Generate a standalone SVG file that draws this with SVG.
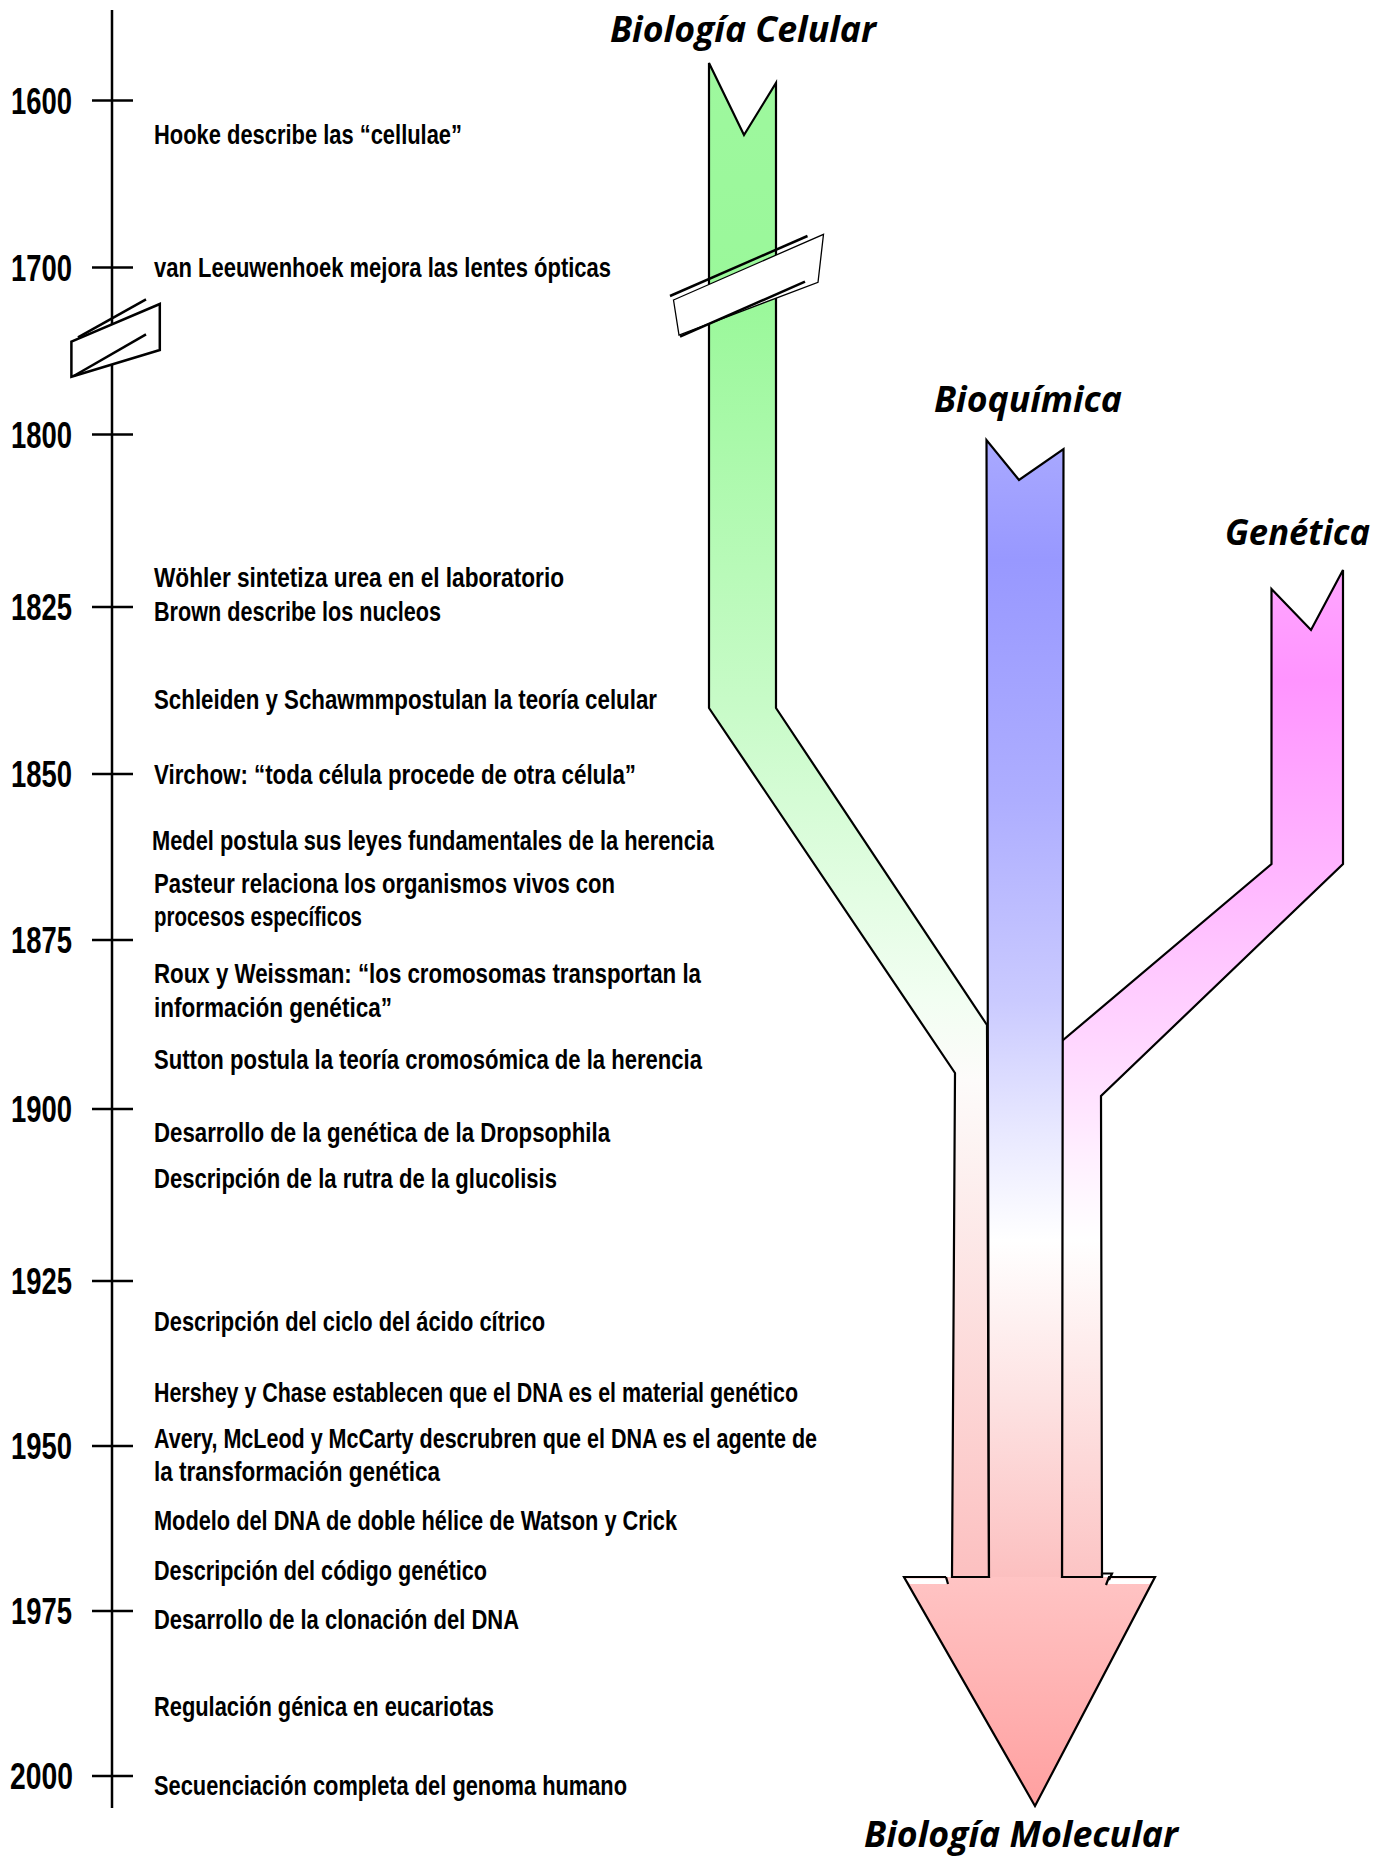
<svg xmlns="http://www.w3.org/2000/svg" width="1383" height="1857" viewBox="0 0 1383 1857">
<style>
.yr{font-family:"Liberation Sans Narrow","Liberation Sans",sans-serif;font-weight:700;font-size:36px;fill:#000}
.ev{font-family:"Liberation Sans Narrow","Liberation Sans",sans-serif;font-weight:700;font-size:28px;fill:#000}
.ttl{font-family:"Open Sans","Noto Sans",sans-serif;font-weight:700;font-style:italic;font-size:35px;fill:#000}
.tick{stroke:#000;stroke-width:2.5}
.band{stroke:#000;stroke-width:2.2;stroke-linejoin:miter}
.ln{fill:none;stroke:#000;stroke-width:2.2;stroke-linejoin:miter}
.brk{fill:#fff;stroke:#000}
</style>
<defs>
<linearGradient id="gGreen" gradientUnits="userSpaceOnUse" x1="0" y1="63" x2="0" y2="1577">
<stop offset="0" stop-color="#9ef89e"/>
<stop offset="0.157" stop-color="#9af89a"/>
<stop offset="0.426" stop-color="#c8fbc8"/>
<stop offset="0.619" stop-color="#f2fef2"/>
<stop offset="0.672" stop-color="#fdfbfa"/>
<stop offset="1" stop-color="#fcc0c0"/>
</linearGradient>
<linearGradient id="gBlue" gradientUnits="userSpaceOnUse" x1="0" y1="440" x2="0" y2="1577">
<stop offset="0" stop-color="#a9a9ff"/>
<stop offset="0.106" stop-color="#9898ff"/>
<stop offset="0.317" stop-color="#aeaeff"/>
<stop offset="0.493" stop-color="#cacaff"/>
<stop offset="0.607" stop-color="#e8e8ff"/>
<stop offset="0.704" stop-color="#ffffff"/>
<stop offset="0.844" stop-color="#fde2e2"/>
<stop offset="1" stop-color="#fcc0c0"/>
</linearGradient>
<linearGradient id="gPink" gradientUnits="userSpaceOnUse" x1="0" y1="570" x2="0" y2="1577">
<stop offset="0" stop-color="#ffa6ff"/>
<stop offset="0.109" stop-color="#ff94ff"/>
<stop offset="0.292" stop-color="#ffb4ff"/>
<stop offset="0.467" stop-color="#ffd6ff"/>
<stop offset="0.576" stop-color="#ffeeff"/>
<stop offset="0.665" stop-color="#ffffff"/>
<stop offset="1" stop-color="#fcc4c4"/>
</linearGradient>
<linearGradient id="gHead" gradientUnits="userSpaceOnUse" x1="0" y1="1577" x2="0" y2="1806">
<stop offset="0" stop-color="#ffc4c4"/>
<stop offset="1" stop-color="#ffa0a0"/>
</linearGradient>
</defs>

<g id="timeline-axis">
<line x1="112" y1="10" x2="112" y2="1808" stroke="#000" stroke-width="2.5"/>
<g id="ticks">
<line class="tick" x1="92" y1="100.6" x2="133" y2="100.6"/>
<line class="tick" x1="92" y1="267.6" x2="133" y2="267.6"/>
<line class="tick" x1="92" y1="434.6" x2="133" y2="434.6"/>
<line class="tick" x1="92" y1="607" x2="133" y2="607"/>
<line class="tick" x1="92" y1="774" x2="133" y2="774"/>
<line class="tick" x1="92" y1="940" x2="133" y2="940"/>
<line class="tick" x1="92" y1="1109" x2="133" y2="1109"/>
<line class="tick" x1="92" y1="1281" x2="133" y2="1281"/>
<line class="tick" x1="92" y1="1446" x2="133" y2="1446"/>
<line class="tick" x1="92" y1="1611" x2="133" y2="1611"/>
<line class="tick" x1="92" y1="1776" x2="133" y2="1776"/>
</g>
<g id="axis-break">
<polygon class="brk" stroke-width="2.5" points="71.4,341.7 159.8,304 159.8,350 71.4,376.7"/>
<line x1="78" y1="337.3" x2="146" y2="299.3" stroke="#000" stroke-width="2.5"/>
<line x1="73.7" y1="376" x2="146" y2="334.3" stroke="#000" stroke-width="2.5"/>
</g>
</g>

<g id="years">
<text class="yr" x="11" y="113.6" textLength="61" lengthAdjust="spacingAndGlyphs">1600</text>
<text class="yr" x="11" y="280.6" textLength="61" lengthAdjust="spacingAndGlyphs">1700</text>
<text class="yr" x="11" y="447.6" textLength="61" lengthAdjust="spacingAndGlyphs">1800</text>
<text class="yr" x="11" y="620" textLength="61" lengthAdjust="spacingAndGlyphs">1825</text>
<text class="yr" x="11" y="787" textLength="61" lengthAdjust="spacingAndGlyphs">1850</text>
<text class="yr" x="11" y="953" textLength="61" lengthAdjust="spacingAndGlyphs">1875</text>
<text class="yr" x="11" y="1122" textLength="61" lengthAdjust="spacingAndGlyphs">1900</text>
<text class="yr" x="11" y="1294" textLength="61" lengthAdjust="spacingAndGlyphs">1925</text>
<text class="yr" x="11" y="1459" textLength="61" lengthAdjust="spacingAndGlyphs">1950</text>
<text class="yr" x="11" y="1624" textLength="61" lengthAdjust="spacingAndGlyphs">1975</text>
<text class="yr" x="10" y="1789" textLength="63" lengthAdjust="spacingAndGlyphs">2000</text>
</g>

<g id="events">
<text class="ev" x="154" y="144" textLength="308" lengthAdjust="spacingAndGlyphs">Hooke describe las “cellulae”</text>
<text class="ev" x="154" y="277" textLength="457" lengthAdjust="spacingAndGlyphs">van Leeuwenhoek mejora las lentes ópticas</text>
<text class="ev" x="154" y="587" textLength="410" lengthAdjust="spacingAndGlyphs">Wöhler sintetiza urea en el laboratorio</text>
<text class="ev" x="154" y="621" textLength="287" lengthAdjust="spacingAndGlyphs">Brown describe los nucleos</text>
<text class="ev" x="154" y="709" textLength="503" lengthAdjust="spacingAndGlyphs">Schleiden y Schawmmpostulan la teoría celular</text>
<text class="ev" x="154" y="784" textLength="482" lengthAdjust="spacingAndGlyphs">Virchow: “toda célula procede de otra célula”</text>
<text class="ev" x="152" y="850" textLength="562" lengthAdjust="spacingAndGlyphs">Medel postula sus leyes fundamentales de la herencia</text>
<text class="ev" x="154" y="893" textLength="461" lengthAdjust="spacingAndGlyphs">Pasteur relaciona los organismos vivos con</text>
<text class="ev" x="154" y="926" textLength="208" lengthAdjust="spacingAndGlyphs">procesos específicos</text>
<text class="ev" x="154" y="983" textLength="547" lengthAdjust="spacingAndGlyphs">Roux y Weissman: “los cromosomas transportan la</text>
<text class="ev" x="154" y="1017" textLength="238" lengthAdjust="spacingAndGlyphs">información genética”</text>
<text class="ev" x="154" y="1069" textLength="548" lengthAdjust="spacingAndGlyphs">Sutton postula la teoría cromosómica de la herencia</text>
<text class="ev" x="154" y="1142" textLength="456" lengthAdjust="spacingAndGlyphs">Desarrollo de la genética de la Dropsophila</text>
<text class="ev" x="154" y="1188" textLength="403" lengthAdjust="spacingAndGlyphs">Descripción de la rutra de la glucolisis</text>
<text class="ev" x="154" y="1331" textLength="391" lengthAdjust="spacingAndGlyphs">Descripción del ciclo del ácido cítrico</text>
<text class="ev" x="154" y="1402" textLength="644" lengthAdjust="spacingAndGlyphs">Hershey y Chase establecen que el DNA es el material genético</text>
<text class="ev" x="154" y="1448" textLength="663" lengthAdjust="spacingAndGlyphs">Avery, McLeod y McCarty descrubren que el DNA es el agente de</text>
<text class="ev" x="154" y="1481" textLength="286" lengthAdjust="spacingAndGlyphs">la transformación genética</text>
<text class="ev" x="154" y="1530" textLength="523" lengthAdjust="spacingAndGlyphs">Modelo del DNA de doble hélice de Watson y Crick</text>
<text class="ev" x="154" y="1580" textLength="333" lengthAdjust="spacingAndGlyphs">Descripción del código genético</text>
<text class="ev" x="154" y="1629" textLength="365" lengthAdjust="spacingAndGlyphs">Desarrollo de la clonación del DNA</text>
<text class="ev" x="154" y="1716" textLength="340" lengthAdjust="spacingAndGlyphs">Regulación génica en eucariotas</text>
<text class="ev" x="154" y="1795" textLength="473" lengthAdjust="spacingAndGlyphs">Secuenciación completa del genoma humano</text>
</g>

<g id="connectors">
<g id="arrowhead">
<polygon fill="url(#gHead)" points="904,1577 1155,1577 1035,1806"/>
<polygon fill="#fff" points="905.5,1578.5 946,1578.5 948,1584 910,1584"/>
<polygon fill="#fff" points="1109,1578.5 1153.5,1578.5 1149.5,1584 1107,1584"/>
<path class="ln" d="M946,1577 L904,1577 L1035,1806 L1155,1577 L1109,1577 L1106,1585"/>
<path class="ln" d="M946,1577 L948,1584"/>
</g>
<g id="band-biologia-celular">
<polygon class="band" fill="url(#gGreen)" points="709,63 744,135 776,83 776,708 987,1025 989,1577 952,1577 955,1073 709,708"/>
<g id="band-break">
<polygon class="brk" stroke-width="1.3" points="673.5,300 823.5,234.3 818,282.3 679,335"/>
<line x1="670" y1="296" x2="807.5" y2="236" stroke="#000" stroke-width="2.5"/>
<line x1="680" y1="336.7" x2="805" y2="281.7" stroke="#000" stroke-width="2.5"/>
</g>
</g>
<g id="band-genetica">
<polygon class="band" fill="url(#gPink)" points="1271.5,589 1311,630 1343,570 1343,864 1101,1096 1102,1577 1062,1577 1062,1041 1271.5,864"/>
<path class="ln" d="M1102,1577 L1102,1573.5 L1112,1573.5 L1109,1580"/>
</g>
<g id="band-bioquimica">
<polygon fill="url(#gBlue)" points="986.5,440 1019,480 1063.5,449 1062,1577 989,1577"/>
<path class="ln" d="M989,1578 L986.5,440 L1019,480 L1063.5,449 L1062,1578"/>
</g>
</g>

<g id="title-biologia-celular"><text class="ttl" x="610" y="42" textLength="266" lengthAdjust="spacingAndGlyphs">Biología Celular</text></g>
<g id="title-bioquimica"><text class="ttl" x="934" y="412" textLength="188" lengthAdjust="spacingAndGlyphs">Bioquímica</text></g>
<g id="title-genetica"><text class="ttl" x="1225" y="545" textLength="145" lengthAdjust="spacingAndGlyphs">Genética</text></g>
<g id="title-biologia-molecular"><text class="ttl" x="864" y="1847" textLength="314" lengthAdjust="spacingAndGlyphs">Biología Molecular</text></g>
</svg>
